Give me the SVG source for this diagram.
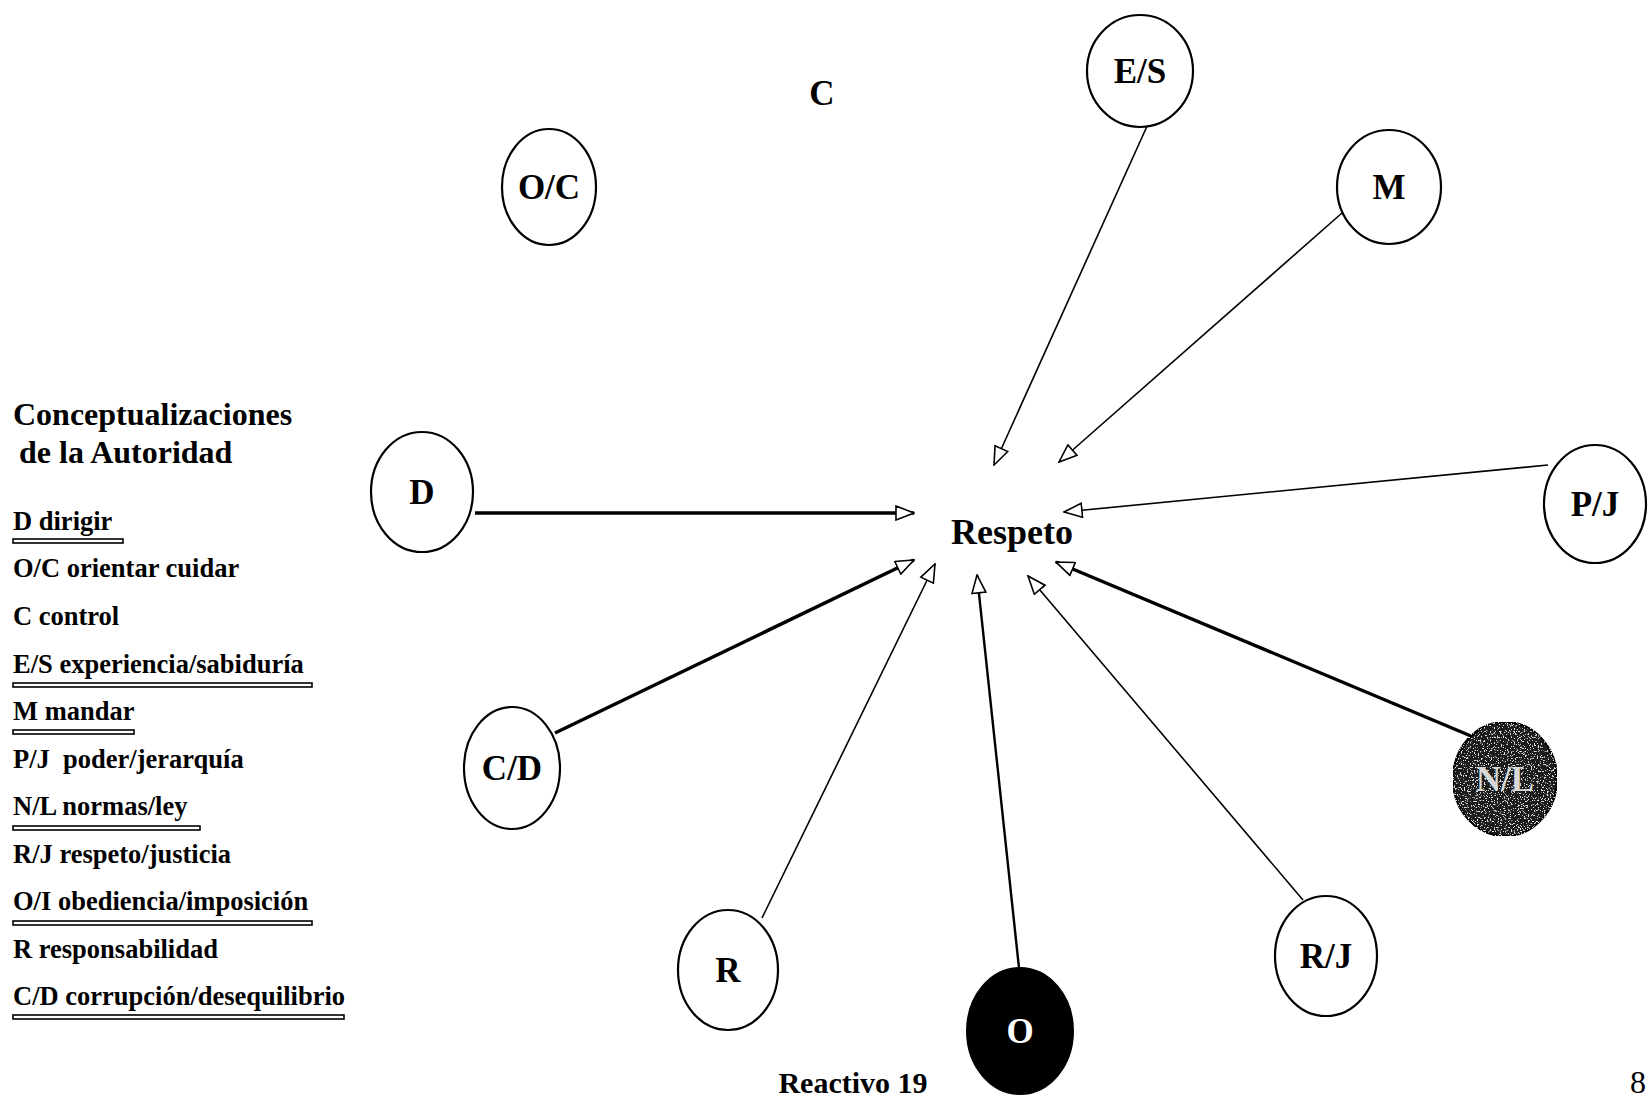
<svg xmlns="http://www.w3.org/2000/svg" width="1648" height="1104" viewBox="0 0 1648 1104">
<style>
text{font-family:"Liberation Serif","Times New Roman",serif;font-weight:bold;fill:#000}
.node{fill:#fff;stroke:#000;stroke-width:2.2}
.lbl{font-size:35px;text-anchor:middle}
.leg{font-size:26.5px}
.ttl{font-size:32px}
.ul{fill:#fff;stroke:#000;stroke-width:1.6}
.thin{stroke:#000;stroke-width:1.6;fill:none}
.mid{stroke:#000;stroke-width:2.4;fill:none}
.thick{stroke:#000;stroke-width:3.4;fill:none}
</style>
<defs>
<marker id="ah" viewBox="0 0 20 16" refX="19" refY="8" markerWidth="20" markerHeight="16" markerUnits="userSpaceOnUse" orient="auto">
<path d="M1,1 L19,8 L1,15 Z" fill="#fff" stroke="#000" stroke-width="1.6"/>
</marker>
<filter id="speck" x="0" y="0" width="1" height="1">
<feTurbulence type="fractalNoise" baseFrequency="0.7" numOctaves="2" seed="3" result="n"/>
<feColorMatrix in="n" type="matrix" values="0 0 0 0 0.75  0 0 0 0 0.75  0 0 0 0 0.75  0 0 0 14 -8.4" result="w"/>
<feComposite in="w" in2="SourceGraphic" operator="in" result="wc"/>
<feMerge><feMergeNode in="SourceGraphic"/><feMergeNode in="wc"/></feMerge>
</filter>
</defs>
<rect width="1648" height="1104" fill="#fff"/>

<g id="legend">
<text class="ttl" x="13" y="425">Conceptualizaciones</text>
<text class="ttl" x="19" y="463">de la Autoridad</text>
<text class="leg" x="13" y="530">D dirigir</text>
<rect class="ul" x="13" y="539" width="110" height="4"/>
<text class="leg" x="13" y="577">O/C orientar cuidar</text>
<text class="leg" x="13" y="625">C control</text>
<text class="leg" x="13" y="673">E/S experiencia/sabiduría</text>
<rect class="ul" x="13" y="683" width="299" height="4"/>
<text class="leg" x="13" y="720">M mandar</text>
<rect class="ul" x="13" y="730" width="121" height="4"/>
<text class="leg" x="13" y="768">P/J&#160; poder/jerarquía</text>
<text class="leg" x="13" y="815">N/L normas/ley</text>
<rect class="ul" x="13" y="826" width="187" height="4"/>
<text class="leg" x="13" y="863">R/J respeto/justicia</text>
<text class="leg" x="13" y="910">O/I obediencia/imposición</text>
<rect class="ul" x="13" y="921" width="299" height="4"/>
<text class="leg" x="13" y="958">R responsabilidad</text>
<text class="leg" x="13" y="1005">C/D corrupción/desequilibrio</text>
<rect class="ul" x="13" y="1015" width="331" height="4"/>
</g>

<g id="connectors">
<line class="thin" x1="1148" y1="124" x2="994" y2="465" marker-end="url(#ah)"/>
<line class="thin" x1="1342" y1="213" x2="1059" y2="462" marker-end="url(#ah)"/>
<line class="thick" x1="475" y1="513" x2="914" y2="513" marker-end="url(#ah)"/>
<line class="thin" x1="1548" y1="465" x2="1064" y2="512" marker-end="url(#ah)"/>
<line class="thick" x1="555" y1="733" x2="914" y2="560" marker-end="url(#ah)"/>
<line class="thin" x1="762" y1="918" x2="935" y2="564" marker-end="url(#ah)"/>
<line class="mid" x1="1019" y1="968" x2="977" y2="575" marker-end="url(#ah)"/>
<line class="thin" x1="1303" y1="900" x2="1028" y2="576" marker-end="url(#ah)"/>
<line class="thick" x1="1471" y1="736" x2="1056" y2="562" marker-end="url(#ah)"/>
</g>

<g id="respeto"><text x="1012" y="544" style="font-size:36px" text-anchor="middle">Respeto</text></g>
<g id="c"><text x="822" y="105" style="font-size:35px" text-anchor="middle">C</text></g>

<g id="oc"><ellipse class="node" cx="549" cy="187" rx="47" ry="58"/><text class="lbl" x="549" y="199">O/C</text></g>
<g id="es"><ellipse class="node" cx="1140" cy="71" rx="53" ry="56"/><text class="lbl" x="1140" y="83">E/S</text></g>
<g id="m"><ellipse class="node" cx="1389" cy="187" rx="52" ry="57"/><text class="lbl" x="1389" y="199">M</text></g>
<g id="d"><ellipse class="node" cx="422" cy="492" rx="51" ry="60"/><text class="lbl" x="422" y="504">D</text></g>
<g id="pj"><ellipse class="node" cx="1595" cy="504" rx="51" ry="59"/><text class="lbl" x="1595" y="516">P/J</text></g>
<g id="cd"><ellipse class="node" cx="512" cy="768" rx="48" ry="61"/><text class="lbl" x="512" y="780">C/D</text></g>
<g id="nl"><ellipse cx="1505" cy="779" rx="52" ry="57" fill="#1e1e1e" stroke="#000" stroke-width="2.2" filter="url(#speck)"/><text class="lbl" x="1505" y="791" style="fill:#d8d8d8">N/L</text></g>
<g id="r"><ellipse class="node" cx="728" cy="970" rx="50" ry="60"/><text class="lbl" x="728" y="982">R</text></g>
<g id="o"><ellipse cx="1020" cy="1031" rx="53" ry="63" fill="#000" stroke="#000" stroke-width="2"/><text class="lbl" x="1020" y="1043" style="fill:#fff">O</text></g>
<g id="rj"><ellipse class="node" cx="1326" cy="956" rx="51" ry="60"/><text class="lbl" x="1326" y="968">R/J</text></g>

<g id="footer">
<text x="853" y="1093" style="font-size:30px" text-anchor="middle">Reactivo 19</text>
<text x="1630" y="1093" style="font-size:32px;font-weight:normal">8</text>
</g>
</svg>
